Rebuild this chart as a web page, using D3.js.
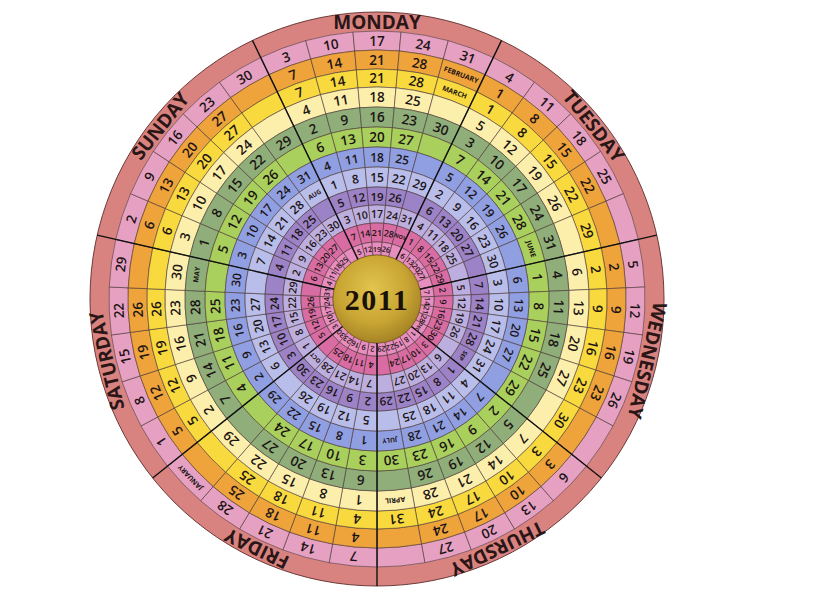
<!DOCTYPE html>
<html><head><meta charset="utf-8">
<script src="https://cdn.jsdelivr.net/npm/d3@7"></script>
<style>html,body{margin:0;padding:0;background:#fff;}svg{display:block;}</style>
</head><body>
<svg id="chart" width="834" height="600"></svg>
<script>
// ---- data ----
const year = "2011";
const weekdays = ["MONDAY","TUESDAY","WEDNESDAY","THURSDAY","FRIDAY","SATURDAY","SUNDAY"];
const monthLabels = ["JANUARY","FEBRUARY","MARCH","APRIL","MAY","JUNE","JULY","AUG","SEP","OCT","NOV","DEC"];
// weekday (index into weekdays) whose spare cell carries the month label
const labelWeekday = [4,0,0,3,5,1,3,6,2,4,0,2];
// dates of each month, listed per weekday Mon..Sun
const jan = [[3,10,17,24,31],[4,11,18,25],[5,12,19,26],[6,13,20,27],[7,14,21,28],[1,8,15,22,29],[2,9,16,23,30]];
const feb = [[7,14,21,28],[1,8,15,22],[2,9,16,23],[3,10,17,24],[4,11,18,25],[5,12,19,26],[6,13,20,27]];
const mar = [[7,14,21,28],[1,8,15,22,29],[2,9,16,23,30],[3,10,17,24,31],[4,11,18,25],[5,12,19,26],[6,13,20,27]];
const apr = [[4,11,18,25],[5,12,19,26],[6,13,20,27],[7,14,21,28],[1,8,15,22,29],[2,9,16,23,30],[3,10,17,24]];
const may = [[2,9,16,23,30],[3,10,17,24,31],[4,11,18,25],[5,12,19,26],[6,13,20,27],[7,14,21,28],[1,8,15,22,29]];
const jun = [[6,13,20,27],[7,14,21,28],[1,8,15,22,29],[2,9,16,23,30],[3,10,17,24],[4,11,18,25],[5,12,19,26]];
const jul = [[4,11,18,25],[5,12,19,26],[6,13,20,27],[7,14,21,28],[1,8,15,22,29],[2,9,16,23,30],[3,10,17,24,31]];
const aug = [[1,8,15,22,29],[2,9,16,23,30],[3,10,17,24,31],[4,11,18,25],[5,12,19,26],[6,13,20,27],[7,14,21,28]];
const sep = [[5,12,19,26],[6,13,20,27],[7,14,21,28],[1,8,15,22,29],[2,9,16,23,30],[3,10,17,24],[4,11,18,25]];
const oct = [[3,10,17,24,31],[4,11,18,25],[5,12,19,26],[6,13,20,27],[7,14,21,28],[1,8,15,22,29],[2,9,16,23,30]];
const nov = [[7,14,21,28],[1,8,15,22,29],[2,9,16,23,30],[3,10,17,24],[4,11,18,25],[5,12,19,26],[6,13,20,27]];
const dec = [[5,12,19,26],[6,13,20,27],[7,14,21,28],[1,8,15,22,29],[2,9,16,23,30],[3,10,17,24,31],[4,11,18,25]];
const monthDates = [jan,feb,mar,apr,may,jun,jul,aug,sep,oct,nov,dec];

// ---- styles / layout ----
const ringColors = ["#e6a0c2","#eea33b","#f8da3e","#fcefab","#8fae79","#a9cf5c","#8f9fe1","#b9bde9","#9c82c6","#bcafdf","#d96da3","#e78dbf"];
const dayRingColor = "#d98380";
const cx = 377, cy = 299;
const outerR = 287;
const edges = [268,249,230,212,192,172,152,132,112,94,76,57,44]; // ring boundaries outer->inner
const dateSize = [13.5,13.5,13.5,13.5,13.5,13.5,12,12,11.5,10.5,9,7.5];
const labelSize = [7,7,7,7,7,7,6.5,6.5,6,6,5.5,5];
const slotsPerDay = 5;

const svg = d3.select("#chart");
const defs = svg.append("defs");
const grad = defs.append("radialGradient").attr("id","gold").attr("cx","45%").attr("cy","38%").attr("r","65%");
grad.append("stop").attr("offset","0%").attr("stop-color","#e2c44e");
grad.append("stop").attr("offset","60%").attr("stop-color","#c9a534");
grad.append("stop").attr("offset","100%").attr("stop-color","#a07f22");

const g = svg.append("g").attr("transform",`translate(${cx},${cy})`);

const dayScale = d3.scaleBand().domain(weekdays).range([-180/7, 360-180/7]).padding(0);
const bw = dayScale.bandwidth();
const slotW = bw/slotsPerDay;
const rad = d => d*Math.PI/180;
const arc = d3.arc();

// day ring
g.append("circle").attr("r",outerR).attr("fill",dayRingColor).attr("stroke","#6b3a38").attr("stroke-width",1);

// month rings cells
monthDates.forEach((md,m)=>{
  const r0 = edges[m+1], r1 = edges[m];
  const cells = [];
  weekdays.forEach((wd,w)=>{
    for(let k=0;k<slotsPerDay;k++){
      const a0 = dayScale(wd)+k*slotW;
      cells.push({a0, a1:a0+slotW});
    }
  });
  g.append("g").selectAll("path").data(cells).join("path")
    .attr("d",d=>arc({innerRadius:r0,outerRadius:r1,startAngle:rad(d.a0),endAngle:rad(d.a1)}))
    .attr("fill",ringColors[m]).attr("stroke","#4a3a3a").attr("stroke-width",0.6);
});

// gold center
g.append("circle").attr("r",edges[edges.length-1]).attr("fill","url(#gold)").attr("stroke","#7d6120").attr("stroke-width",0.8);

// sector dividers
g.append("g").selectAll("line").data(weekdays).join("line")
  .attr("x1",d=>edges[edges.length-1]*Math.sin(rad(dayScale(d))))
  .attr("y1",d=>-edges[edges.length-1]*Math.cos(rad(dayScale(d))))
  .attr("x2",d=>outerR*Math.sin(rad(dayScale(d))))
  .attr("y2",d=>-outerR*Math.cos(rad(dayScale(d))))
  .attr("stroke","#111").attr("stroke-width",1.4);

function place(a,r){ return `translate(${(r*Math.sin(rad(a))).toFixed(2)},${(-r*Math.cos(rad(a))).toFixed(2)}) rotate(${a.toFixed(2)})`; }

// dates and labels
monthDates.forEach((md,m)=>{
  const rm = (edges[m]+edges[m+1])/2;
  const items = [];
  md.forEach((list,w)=>{
    list.forEach((v,k)=>items.push({t:String(v), a:dayScale(weekdays[w])+(k+0.5)*slotW, lab:false}));
    if(labelWeekday[m]===w && list.length<slotsPerDay){
      items.push({t:monthLabels[m], a:dayScale(weekdays[w])+(slotsPerDay-0.5)*slotW, lab:true});
    }
  });
  g.append("g").selectAll("text").data(items).join("text")
    .attr("transform",d=>place(d.a,rm))
    .attr("text-anchor","middle").attr("dominant-baseline","central")
    .attr("font-family","'Open Sans', 'DejaVu Sans', sans-serif")
    .attr("font-weight",d=>d.lab?700:600)
    .attr("font-size",d=>d.lab?labelSize[m]:dateSize[m])
    .attr("fill","#1c1414")
    .text(d=>d.t);
});

// weekday names
g.append("g").selectAll("text").data(weekdays).join("text")
  .attr("transform",d=>place(dayScale(d)+bw/2,(outerR+edges[0])/2))
  .attr("text-anchor","middle").attr("dominant-baseline","central")
  .attr("font-family","'Open Sans', 'DejaVu Sans', sans-serif")
  .attr("font-weight",700).attr("font-size",19).attr("fill","#2a1616")
  .text(d=>d);

// year
g.append("text").attr("x",0).attr("y",0).attr("dy","0.35em")
  .attr("text-anchor","middle").attr("font-family","'Liberation Serif','Times New Roman',serif")
  .attr("font-weight",700)
  .attr("font-size",30).attr("letter-spacing",1.5).attr("fill","#1a1208").text(year);
</script>
</body></html>
